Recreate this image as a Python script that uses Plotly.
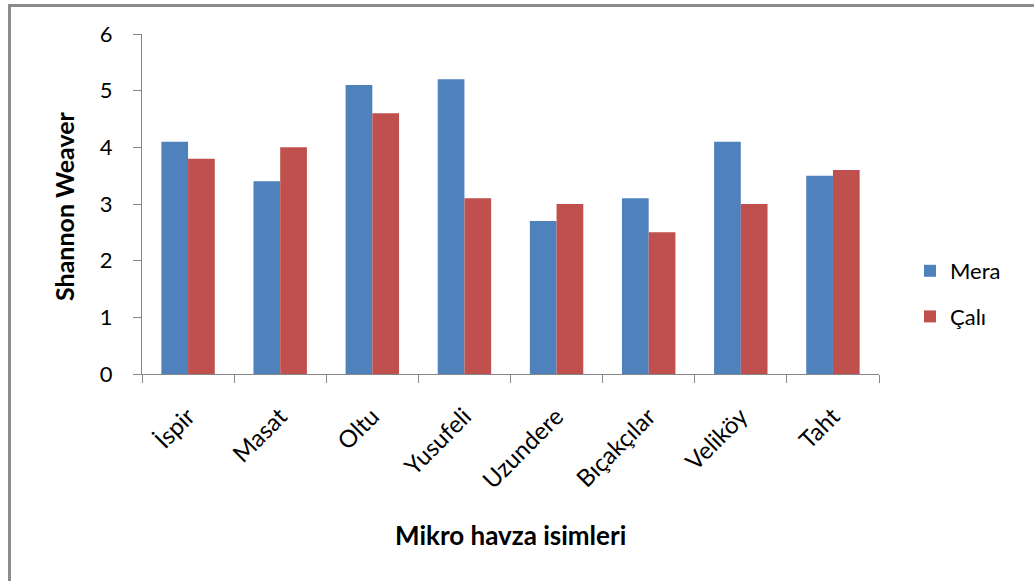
import plotly.graph_objects as go

categories = ["İspir", "Masat", "Oltu", "Yusufeli", "Uzundere", "Bıçakçılar", "Veliköy", "Taht"]
mera = [4.1, 3.4, 5.1, 5.2, 2.7, 3.1, 4.1, 3.5]
cali = [3.8, 4.0, 4.6, 3.1, 3.0, 2.5, 3.0, 3.6]

FONT = "Lato"
AX = "#868686"

fig = go.Figure()
fig.add_trace(go.Bar(x=categories, y=mera, name="Mera", marker=dict(color="#4F81BD", line=dict(width=0)), legendgroup="a"))
fig.add_trace(go.Bar(x=categories, y=cali, name="Çalı", marker=dict(color="#C0504D", line=dict(width=0)), legendgroup="b"))

W, H = 1034, 581
L, R, T, B = 142, 155, 34, 207
pw, ph = W - L - R, H - T - B

def px(x):
    return (x - L) / pw

def py(y):
    return 1 - (y - T) / ph

fig.update_layout(
    width=W, height=H,
    margin=dict(l=L, r=R, t=T, b=B, pad=0),
    paper_bgcolor="white", plot_bgcolor="white",
    barmode="group", bargap=0.42, bargroupgap=0,
    font=dict(family=FONT, size=22, color="#000000"),
    showlegend=True,
    legend=dict(x=px(910), y=py(250), xanchor="left", yanchor="top",
                font=dict(size=22, family=FONT), tracegroupgap=14,
                traceorder="grouped", itemwidth=30, bgcolor="rgba(0,0,0,0)"),
    xaxis=dict(range=[-0.5, 7.5], showline=True, linecolor=AX, linewidth=1,
               ticks="outside", tickson="boundaries", ticklen=8, tickcolor=AX,
               tickangle=-45, showgrid=False, zeroline=False, ticklabelstandoff=18,
               tickfont=dict(size=24, family=FONT)),
    yaxis=dict(range=[0, 6], dtick=1, showline=True, linecolor=AX, linewidth=1,
               ticks="outside", ticklen=8, tickcolor=AX, showgrid=False, zeroline=False,
               tickfont=dict(size=22, family=FONT), ticklabelstandoff=16),
)

fig.add_annotation(text="<b>Mikro havza isimleri</b>", xref="paper", yref="paper",
                   x=px(510.5), y=py(535), xanchor="center", yanchor="middle",
                   showarrow=False, font=dict(size=26, family=FONT))
fig.add_annotation(text="<b>Shannon Weaver</b>", xref="paper", yref="paper",
                   x=px(64), y=py(206), xanchor="center", yanchor="middle", textangle=-90,
                   showarrow=False, font=dict(size=25, family=FONT))

fig.add_shape(type="rect", xref="paper", yref="paper",
              x0=px(9.5), y0=py(5.5), x1=px(1100), y1=py(650),
              line=dict(color="#8C8C8C", width=3), fillcolor="rgba(0,0,0,0)", layer="below")

fig.write_html("out.html")
